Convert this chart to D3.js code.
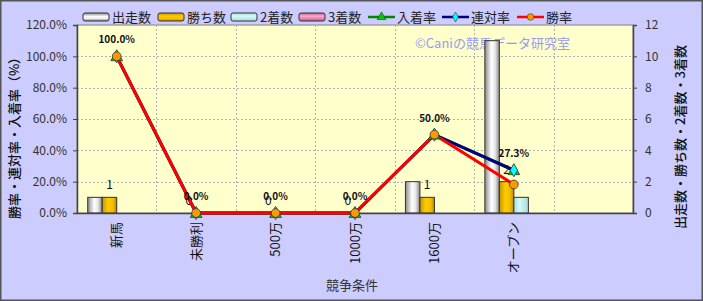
<!DOCTYPE html>
<html>
<head>
<meta charset="utf-8">
<script src="https://cdn.jsdelivr.net/npm/d3@7"></script>
<style>
  body { margin: 0; background: #fff; }
  text { font-family: "Noto Sans CJK JP", "Noto Sans", sans-serif; }
</style>
</head>
<body>
<svg id="chart" width="703" height="301"></svg>
<script>
// data
var categories = ["新馬", "未勝利", "500万", "1000万", "1600万", "オープン", ""];
var starts = [1, 0, 0, 0, 2, 11];      // 出走数
var wins = [1, 0, 0, 0, 1, 2];         // 勝ち数
var seconds = [0, 0, 0, 0, 0, 1];      // 2着数
var thirds = [0, 0, 0, 0, 0, 0];       // 3着数
var placeRate = [1.0, 0, 0, 0, 0.5, 0.273];  // 入着率
var rentaiRate = [1.0, 0, 0, 0, 0.5, 0.273]; // 連対率
var winRate = [1.0, 0, 0, 0, 0.5, 0.182];    // 勝率
var leftTicks = [0, 0.2, 0.4, 0.6, 0.8, 1.0, 1.2];
var rightTicks = [0, 2, 4, 6, 8, 10, 12];

var svg = d3.select("#chart");
var W = 703, H = 301;
var pL = 77, pR = 633, pT = 25, pB = 213;

svg.append("rect").attr("x", 0.75).attr("y", 0.75).attr("width", W - 1.5).attr("height", H - 1.5)
    .attr("fill", "#ccccff").attr("stroke", "#555").attr("stroke-width", 1.5);

var defs = svg.append("defs");
function grad(id, stops, vertical) {
  var g = defs.append("linearGradient").attr("id", id)
      .attr("x1", "0%").attr("x2", vertical ? "0%" : "100%").attr("y1", "0%").attr("y2", vertical ? "100%" : "0%");
  stops.forEach(function(s) { g.append("stop").attr("offset", s[0]).attr("stop-color", s[1]); });
}
var stopsStart = [["0%", "#8a8a8a"], ["45%", "#ffffff"], ["70%", "#e8e8e8"], ["100%", "#888"]];
var stopsWin = [["0%", "#c89400"], ["40%", "#ffcc00"], ["75%", "#f2bd00"], ["100%", "#b88800"]];
var stopsSecond = [["0%", "#a8dede"], ["40%", "#d4fafa"], ["100%", "#a8dcdc"]];
var stopsThird = [["0%", "#c0608c"], ["40%", "#ffa8d0"], ["100%", "#c0608c"]];
grad("gStart", stopsStart); grad("LgStart", stopsStart, true);
grad("gWin", stopsWin); grad("LgWin", stopsWin, true);
grad("gSecond", stopsSecond); grad("LgSecond", stopsSecond, true);
grad("gThird", stopsThird); grad("LgThird", stopsThird, true);

var x = d3.scaleBand().domain(d3.range(categories.length)).range([pL, pR]).padding(0);
var yL = d3.scaleLinear().domain([0, 1.2]).range([pB, pT]);
var yR = d3.scaleLinear().domain([0, 12]).range([pB, pT]);
var barSeries = [
  { name: "出走数", values: starts, grad: "gStart" },
  { name: "勝ち数", values: wins, grad: "gWin" },
  { name: "2着数", values: seconds, grad: "gSecond" },
  { name: "3着数", values: thirds, grad: "gThird" }
];
var inner = d3.scaleBand().domain(d3.range(4)).range([-29, 29]);
var cxOf = function(j) { return x(j) + x.bandwidth() / 2; };

// plot area
svg.append("rect").attr("x", pL).attr("y", pT).attr("width", pR - pL).attr("height", pB - pT)
    .attr("fill", "#ffffcc").attr("stroke", "#888").attr("stroke-width", 1);

// grid
svg.append("g").selectAll("line").data(leftTicks.slice(1)).enter().append("line")
    .attr("x1", pL).attr("x2", pR)
    .attr("y1", function(d) { return Math.round(yL(d)) + 0.5; })
    .attr("y2", function(d) { return Math.round(yL(d)) + 0.5; })
    .attr("stroke", "#b0b0b0").attr("stroke-dasharray", "2,2");
svg.append("g").selectAll("line").data(d3.range(1, categories.length)).enter().append("line")
    .attr("x1", function(d) { return Math.round(x(d)) + 0.5; })
    .attr("x2", function(d) { return Math.round(x(d)) + 0.5; })
    .attr("y1", pT).attr("y2", pB)
    .attr("stroke", "#b0b0b0").attr("stroke-dasharray", "2,2");

// watermark
svg.append("text").attr("x", 415).attr("y", 48).attr("font-size", 13).attr("fill", "#9a9af0")
    .text("©Caniの競馬データ研究室");

// bars
barSeries.forEach(function(s, i) {
  svg.append("g").selectAll("rect").data(s.values).enter().append("rect")
    .attr("x", function(d, j) { return cxOf(j) + inner(i); })
    .attr("width", inner.bandwidth())
    .attr("y", function(d) { return yR(d); })
    .attr("height", function(d) { return pB - yR(d); })
    .attr("fill", "url(#" + s.grad + ")")
    .attr("stroke", function(d) { return d > 0 ? "#333" : "none"; })
    .attr("stroke-width", 1);
});

// win count labels
svg.append("g").selectAll("text").data(wins).enter().append("text")
    .attr("x", function(d, j) { return cxOf(j) + inner(1) + inner.bandwidth() / 2; })
    .attr("y", function(d) { return yR(d) - 8; })
    .attr("text-anchor", "middle").attr("font-size", 12).attr("fill", "#111")
    .text(function(d) { return d; });

// axes
var axL = svg.append("g").attr("transform", "translate(" + pL + ",0)")
    .call(d3.axisLeft(yL).tickValues(leftTicks).tickSize(4).tickFormat(function(d) { return d3.format(".1f")(d * 100) + "%"; }));
var axR = svg.append("g").attr("transform", "translate(" + pR + ",0)")
    .call(d3.axisRight(yR).tickValues(rightTicks).tickSize(4));
var axB = svg.append("g").attr("transform", "translate(0," + pB + ")")
    .call(d3.axisBottom(x).tickSize(0).tickFormat(function(d) { return categories[d]; }));
[axL, axR, axB].forEach(function(a) {
  a.select(".domain").attr("stroke", "#444").attr("stroke-width", 1.5);
  a.selectAll(".tick line").attr("stroke", "#444");
  a.selectAll("text").attr("font-family", "Noto Sans CJK JP").attr("font-size", 12).attr("fill", "#333");
});
axL.selectAll("text").attr("x", -10);
axR.selectAll("text").attr("x", 12);
axB.selectAll("text")
    .attr("font-size", 13).attr("fill", "#111")
    .attr("text-anchor", "end").attr("dy", "0.35em")
    .attr("transform", "translate(0,9) rotate(-90)")
    .attr("x", 0).attr("y", 0);

// axis titles
svg.append("text").attr("transform", "translate(19,135) rotate(-90)").attr("text-anchor", "middle")
    .attr("font-size", 13).attr("font-weight", 500).attr("fill", "#111").text("勝率・連対率・入着率（%）");
svg.append("text").attr("transform", "translate(685,137) rotate(-90)").attr("text-anchor", "middle")
    .attr("font-size", 13).attr("font-weight", 500).attr("fill", "#111").text("出走数・勝ち数・2着数・3着数");
svg.append("text").attr("x", 352).attr("y", 290).attr("text-anchor", "middle")
    .attr("font-size", 13).attr("fill", "#333").text("競争条件");

// lines
var lineSeries = [
  { name: "入着率", values: placeRate, color: "#008800", marker: "triangle", fill: "#00cc00" },
  { name: "連対率", values: rentaiRate, color: "#000080", marker: "diamond", fill: "#00ffff" },
  { name: "勝率", values: winRate, color: "#ff0000", marker: "circle", fill: "#ff9900" }
];
var line = d3.line().x(function(d, j) { return cxOf(j); }).y(function(d) { return yL(d); });
function symbolFor(m) {
  if (m == "triangle") return d3.symbol().type(d3.symbolTriangle).size(60)();
  if (m == "diamond") return d3.symbol().type(d3.symbolDiamond).size(50)();
  return d3.symbol().type(d3.symbolCircle).size(60)();
}
lineSeries.forEach(function(s) {
  svg.append("path").datum(s.values).attr("d", line)
    .attr("fill", "none").attr("stroke", s.color).attr("stroke-width", 3);
});
lineSeries.forEach(function(s) {
  svg.append("g").selectAll("path").data(s.values).enter().append("path")
    .attr("d", symbolFor(s.marker))
    .attr("transform", function(d, j) { return "translate(" + cxOf(j) + "," + (yL(d) + (s.marker == "triangle" ? 1 : 0)) + ")"; })
    .attr("fill", s.fill).attr("stroke", "#333").attr("stroke-width", 0.8);
});

// rate labels
svg.append("g").selectAll("text").data(placeRate).enter().append("text")
    .attr("x", function(d, j) { return cxOf(j); })
    .attr("y", function(d) { return yL(d) - 13; })
    .attr("text-anchor", "middle").attr("font-size", 10).attr("font-weight", "bold")
    .attr("font-family", "Liberation Sans").attr("fill", "#111")
    .text(function(d) { return d3.format(".1f")(d * 100) + "%"; });

// legend
var legItems = [
  { x: 83, type: "bar", s: barSeries[0] },
  { x: 158, type: "bar", s: barSeries[1] },
  { x: 231, type: "bar", s: barSeries[2] },
  { x: 299, type: "bar", s: barSeries[3] },
  { x: 368, type: "line", s: lineSeries[0] },
  { x: 442, type: "line", s: lineSeries[1] },
  { x: 517, type: "line", s: lineSeries[2] }
];
var legend = svg.append("g");
legItems.forEach(function(it) {
  var g = legend.append("g").attr("transform", "translate(" + it.x + ",17)");
  if (it.type == "bar") {
    g.append("rect").attr("x", 0).attr("y", -4).attr("width", 26).attr("height", 8).attr("rx", 2)
      .attr("fill", "url(#L" + it.s.grad + ")").attr("stroke", "#333");
  } else {
    g.append("line").attr("x1", 0).attr("x2", 27).attr("y1", 0).attr("y2", 0)
      .attr("stroke", it.s.color).attr("stroke-width", 2.5);
    g.append("path").attr("d", symbolFor(it.s.marker)).attr("transform", "translate(13.5,0) scale(0.75)")
      .attr("fill", it.s.fill).attr("stroke", "#333").attr("stroke-width", 0.8);
  }
  g.append("text").attr("x", 29).attr("y", 0).attr("dy", "0.36em").attr("font-size", 13).attr("fill", "#222")
    .text(it.s.name);
});
</script>
</body>
</html>
